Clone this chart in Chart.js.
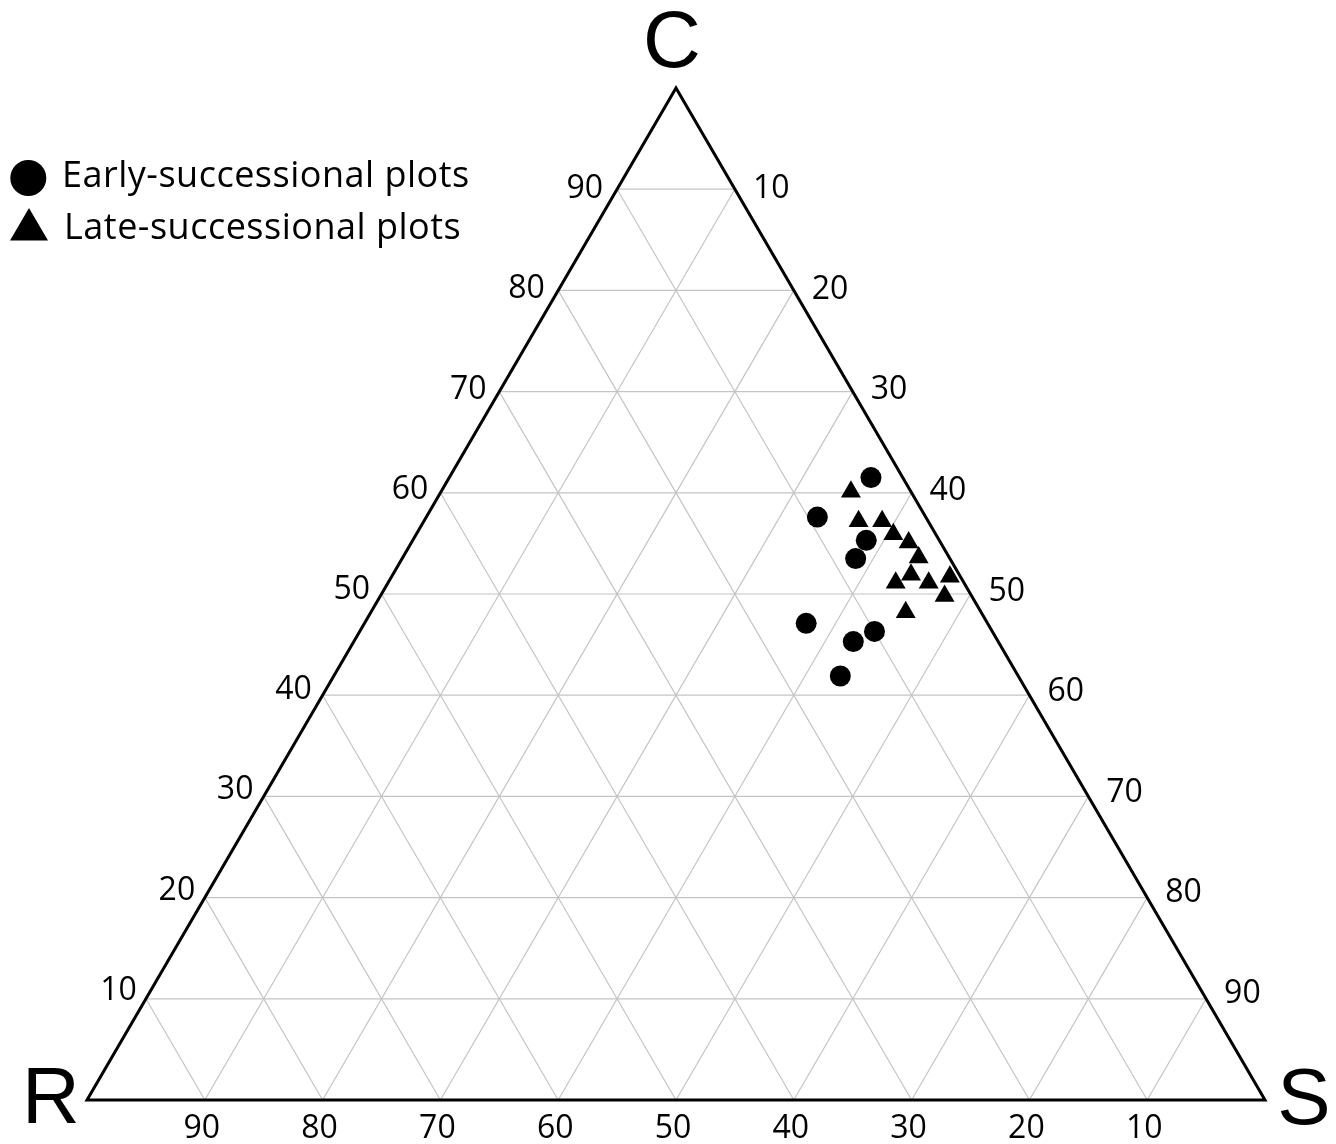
<!DOCTYPE html>
<html>
<head>
<meta charset="utf-8">
<script src="https://cdn.jsdelivr.net/npm/chart.js@4.4.1/dist/chart.umd.min.js"></script>
<style>
  html, body { margin: 0; padding: 0; background: #fff; }
  #wrap { width: 1336px; height: 1144px; position: relative; }
</style>
</head>
<body>
<div id="wrap"><canvas id="chart"></canvas></div>
<script>
// ternary grid ticks (percent)
const gridTicks = [10, 20, 30, 40, 50, 60, 70, 80, 90];
const vertexLabels = { C: 'C', R: 'R', S: 'S' };

// early-successional plots: C, S, R (%)
const earlyC = [61.5, 57.6, 55.3, 53.5, 47.1, 46.3, 45.3, 41.9];
const earlyS = [35.8, 33.2, 38.5, 38.5, 37.5, 43.7, 42.4, 43.0];
const earlyR = [2.7, 9.2, 6.2, 8.0, 15.4, 10.0, 12.3, 15.1];

// late-successional plots: C, S, R (%)
const lateC = [60.1, 57.2, 57.2, 55.9, 55.1, 53.6, 51.9, 51.1, 51.1, 51.7, 49.8, 48.2];
const lateS = [34.8, 36.9, 38.9, 40.5, 42.2, 43.8, 44.0, 43.1, 45.9, 47.4, 47.9, 45.4];
const lateR = [5.1, 5.9, 3.9, 3.6, 2.7, 2.6, 4.1, 5.8, 3.0, 0.9, 2.3, 6.4];

// ternary (C, S) -> cartesian in unit triangle
const toXY = (c, s) => ({ x: (s + c / 2) / 100, y: c / 100 });
const points = (C, S) => C.map((c, i) => toXY(c, S[i]));

const LABEL_FONT = '32px "Open Sans", "Noto Sans", sans-serif';

const ternaryPlugin = {
  id: 'ternary',
  beforeDatasetsDraw(chart) {
    const { ctx, scales: { x, y } } = chart;
    const px = (p) => [x.getPixelForValue(p.x), y.getPixelForValue(p.y)];
    const line = (a, b) => {
      const [x1, y1] = px(a), [x2, y2] = px(b);
      ctx.beginPath(); ctx.moveTo(x1, y1); ctx.lineTo(x2, y2); ctx.stroke();
    };
    ctx.save();
    ctx.strokeStyle = '#c4c4c4';
    ctx.lineWidth = 1.2;
    gridTicks.forEach(t => {
      const v = t / 100;
      line({ x: v / 2, y: v }, { x: 1 - v / 2, y: v });           // C = const
      line({ x: v, y: 0 }, { x: (1 + v) / 2, y: 1 - v });          // S = const
      line({ x: 1 - v, y: 0 }, { x: (1 - v) / 2, y: 1 - v });      // R = const
    });
    // outline
    ctx.strokeStyle = '#000';
    ctx.lineWidth = 3;
    const a = px({ x: 0, y: 0 }), b = px({ x: 1, y: 0 }), c = px({ x: 0.5, y: 1 });
    ctx.beginPath();
    ctx.moveTo(a[0], a[1]); ctx.lineTo(b[0], b[1]); ctx.lineTo(c[0], c[1]); ctx.closePath();
    ctx.stroke();
    ctx.restore();
  },
  afterDraw(chart) {
    const { ctx, scales: { x, y } } = chart;
    const px = (p) => [x.getPixelForValue(p.x), y.getPixelForValue(p.y)];
    ctx.save();
    ctx.fillStyle = '#000';
    ctx.font = LABEL_FONT;
    ctx.textBaseline = 'alphabetic';
    gridTicks.forEach(t => {
      const v = t / 100;
      const f = (v - 0.1) / 0.8;
      // left edge: C values
      let [lx, ly] = px({ x: v / 2, y: v });
      ctx.textAlign = 'right';
      ctx.fillText(String(t), lx - 9 - 5 * f, ly + 1 + 8 * f);
      // right edge: S values
      [lx, ly] = px({ x: (1 + v) / 2, y: 1 - v });
      ctx.textAlign = 'left';
      ctx.fillText(String(t), lx + 18, ly + 9 - 5 * f);
      // bottom edge: R values
      [lx, ly] = px({ x: 1 - v, y: 0 });
      ctx.textAlign = 'center';
      ctx.fillText(String(t), lx - 3, ly + 38);
    });

    // vertex letters
    ctx.font = '80px "Liberation Sans", Arial, sans-serif';
    ctx.textAlign = 'center';
    let [vx, vy] = px({ x: 0.5, y: 1 });
    ctx.fillText(vertexLabels.C, vx - 4, vy - 21);
    [vx, vy] = px({ x: 0, y: 0 });
    ctx.fillText(vertexLabels.R, vx - 36, vy + 23);
    [vx, vy] = px({ x: 1, y: 0 });
    ctx.fillText(vertexLabels.S, vx + 39, vy + 24);

    // legend
    ctx.font = '36px "Open Sans", "Noto Sans", sans-serif';
    if ('letterSpacing' in ctx) ctx.letterSpacing = '0.5px';
    ctx.textAlign = 'left';
    const items = chart.data.datasets;
    const baselines = [187, 239];
    items.forEach((ds, i) => {
      const by = baselines[i];
      ctx.beginPath();
      if (ds.pointStyle === 'triangle') {
        ctx.moveTo(29, by - 31); ctx.lineTo(48, by + 1.5); ctx.lineTo(10, by + 1.5); ctx.closePath();
      } else {
        ctx.arc(28.3, by - 9, 18, 0, Math.PI * 2);
      }
      ctx.fill();
      ctx.fillText(ds.label, i === 0 ? 62 : 64, by);
    });
    ctx.restore();
  }
};

new Chart(document.getElementById('chart'), {
  type: 'scatter',
  data: {
    datasets: [
      {
        label: 'Early-successional plots',
        data: points(earlyC, earlyS),
        pointStyle: 'circle',
        pointRadius: 10.5,
        backgroundColor: '#000',
        borderColor: '#000',
        borderWidth: 0,
      },
      {
        label: 'Late-successional plots',
        data: points(lateC, lateS),
        pointStyle: 'triangle',
        pointRadius: 11.5,
        backgroundColor: '#000',
        borderColor: '#000',
        borderWidth: 0,
      },
    ],
  },
  options: {
    responsive: true,
    maintainAspectRatio: false,
    animation: false,
    layout: { padding: { left: 87, right: 71, top: 88, bottom: 44 } },
    scales: {
      x: { type: 'linear', min: 0, max: 1, display: false },
      y: { type: 'linear', min: 0, max: 1, display: false },
    },
    plugins: {
      legend: { display: false },
      tooltip: { enabled: false },
    },
  },
  plugins: [ternaryPlugin],
});
</script>
</body>
</html>
